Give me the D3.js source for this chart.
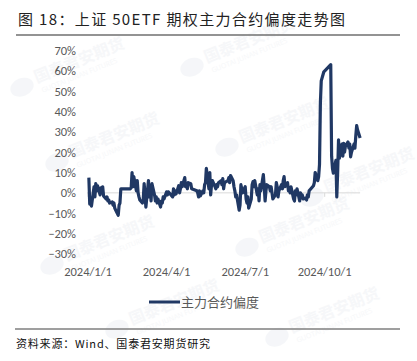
<!DOCTYPE html>
<html>
<head>
<meta charset="utf-8">
<script src="https://cdn.jsdelivr.net/npm/d3@7"></script>
<style>
  body { margin: 0; background: #fff; }
  svg { display: block; }
</style>
</head>
<body>
<script>
// ---- data ----
var titleText = "图 18：上证 50ETF 期权主力合约偏度走势图";
var sourceText = "资料来源：Wind、国泰君安期货研究";
var seriesName = "主力合约偏度";

var yTicks = [-0.3, -0.2, -0.1, 0, 0.1, 0.2, 0.3, 0.4, 0.5, 0.6, 0.7];
var xTicks = ["2024-01-01", "2024-04-01", "2024-07-01", "2024-10-01"];

var dates = [
  "2024-01-02","2024-01-03","2024-01-04","2024-01-05","2024-01-08","2024-01-09","2024-01-10","2024-01-11","2024-01-12",
  "2024-01-15","2024-01-16","2024-01-17","2024-01-18","2024-01-19","2024-01-22","2024-01-23","2024-01-24","2024-01-25",
  "2024-01-26","2024-01-29","2024-01-30","2024-01-31","2024-02-01","2024-02-02","2024-02-05","2024-02-06","2024-02-07",
  "2024-02-08","2024-02-19","2024-02-20","2024-02-21","2024-02-22","2024-02-23","2024-02-26","2024-02-27","2024-02-28",
  "2024-02-29","2024-03-01","2024-03-04","2024-03-05","2024-03-06","2024-03-07","2024-03-08","2024-03-11","2024-03-12",
  "2024-03-13","2024-03-14","2024-03-15","2024-03-18","2024-03-19","2024-03-20","2024-03-21","2024-03-22","2024-03-25",
  "2024-03-26","2024-03-27","2024-03-28","2024-03-29","2024-04-01","2024-04-02","2024-04-03","2024-04-08","2024-04-09",
  "2024-04-10","2024-04-11","2024-04-12","2024-04-15","2024-04-16","2024-04-17","2024-04-18","2024-04-19","2024-04-22",
  "2024-04-23","2024-04-24","2024-04-25","2024-04-26","2024-04-29","2024-04-30","2024-05-06","2024-05-07","2024-05-08",
  "2024-05-09","2024-05-10","2024-05-13","2024-05-14","2024-05-15","2024-05-16","2024-05-17","2024-05-20","2024-05-21",
  "2024-05-22","2024-05-23","2024-05-24","2024-05-27","2024-05-28","2024-05-29","2024-05-30","2024-05-31","2024-06-03",
  "2024-06-04","2024-06-05","2024-06-06","2024-06-07","2024-06-11","2024-06-12","2024-06-13","2024-06-14","2024-06-17",
  "2024-06-18","2024-06-19","2024-06-20","2024-06-21","2024-06-24","2024-06-25","2024-06-26","2024-06-27","2024-06-28",
  "2024-07-01","2024-07-02","2024-07-03","2024-07-04","2024-07-05","2024-07-08","2024-07-09","2024-07-10","2024-07-11",
  "2024-07-12","2024-07-15","2024-07-16","2024-07-17","2024-07-18","2024-07-19","2024-07-22","2024-07-23","2024-07-24",
  "2024-07-25","2024-07-26","2024-07-29","2024-07-30","2024-07-31","2024-08-01","2024-08-02","2024-08-05","2024-08-06",
  "2024-08-07","2024-08-08","2024-08-09","2024-08-12","2024-08-13","2024-08-14","2024-08-15","2024-08-16","2024-08-19",
  "2024-08-20","2024-08-21","2024-08-22","2024-08-23","2024-08-26","2024-08-27","2024-08-28","2024-08-29","2024-08-30",
  "2024-09-02","2024-09-03","2024-09-04","2024-09-05","2024-09-06","2024-09-09","2024-09-10","2024-09-11","2024-09-12",
  "2024-09-13","2024-09-18","2024-09-19","2024-09-20","2024-09-23","2024-09-24","2024-09-25","2024-09-26","2024-09-27",
  "2024-09-30","2024-10-08","2024-10-09","2024-10-10","2024-10-11","2024-10-14","2024-10-15","2024-10-16","2024-10-17",
  "2024-10-18","2024-10-21","2024-10-22","2024-10-23","2024-10-24","2024-10-25","2024-10-28","2024-10-29","2024-10-30",
  "2024-10-31","2024-11-01","2024-11-04","2024-11-05","2024-11-06","2024-11-07","2024-11-08","2024-11-11"
];

// skew, in percent
var skew = [
  7.5, -5.5, -4, -6.5, 3, -2, 4.5, 1, 3.5,
  -1, 2.5, 0.5, 3, -1.5, -3, -2, -4, -3.5,
  -5, -4.5, -6, -5, -7.5, -8.5, -11, -6, -5,
  2, 2, 2.5, 10, 3, 8, 1, 6, 0,
  -2, -3.5, -5, -3, 4.5, -1, -7, 6, -2,
  3, -4, 4.5, -1, -4, -2, -5, -3, -7,
  -4, -5, -2, -3, 0.5, -1, 0.5, -2, 2,
  -1, 1, -0.5, 3.5, 0, 2, 5, 3, 7.5,
  3, 4, 2, 5, 4.5, 2, 1, 0, -2,
  1, -1.5, 1, 0, 4, 5, 12, 2, 10,
  -1, 4, 6, 3, 2, 4, 3, 5, 6,
  4, 7, 2, 5, 6, 7.5, 5, 8.5, 6,
  3, 1, -2, -1, -8.5, -6, 4, 2, 0,
  3, -3, -5, -2, -7.5, -3, 4, 5.5, 3,
  6, -1, 2, -4, 4, 1, 9, 3, -4,
  1, 4, 3, 1, 3, 0, -3, -1, 5,
  3, -2, 1, 4, 2, 6, 8, 3, 5,
  1, 2, 0, 3, -3, -4, 1, -1, 2,
  -4, 0, -2.5, -1, -3, -2.5, -3.5, -1, -2,
  1, 3.5, 5, 10, 6, 8, 14, 44, 55,
  59.5, 63, 18, 12, 9.7, 16, -2, 10, 26,
  17, 24, 18, 24.3, 20, 23, 25, 22, 24,
  17.7, 20, 24, 22, 28, 33, 31, 27
];

// ---- setup ----
var W = 417, H = 361;
var parseDate = d3.timeParse("%Y-%m-%d");
var data = dates.map(function(d, i) { return { date: parseDate(d), value: skew[i] / 100 }; });

var svg = d3.select("body").append("svg")
    .attr("width", W)
    .attr("height", H);

var cjk = "'Noto Sans CJK SC', 'Noto Sans', sans-serif";

// watermarks (faint), kept inside the frame
var marks = [[45, 80], [215, 60], [80, 155], [250, 140], [75, 258], [270, 240], [335, 190], [300, 330], [140, 322]];
marks.forEach(function(m) {
    var g = svg.append("g")
        .attr("transform", "translate(" + m[0] + "," + m[1] + ") rotate(-22)")
        .attr("opacity", 0.35);
    g.append("ellipse").attr("cx", -24).attr("cy", -2).attr("rx", 12).attr("ry", 9).attr("fill", "#e3e8ef");
    g.append("text").text("国泰君安期货")
        .attr("x", -9).attr("y", 0)
        .attr("font-family", cjk).attr("font-size", 16).attr("font-weight", 700)
        .attr("fill", "#e6e9ee");
    g.append("text").text("GUOTAI JUNAN FUTURES")
        .attr("x", -7).attr("y", 11)
        .attr("font-family", "'Open Sans', sans-serif").attr("font-size", 7)
        .attr("fill", "#e6e9ee");
});

// title
svg.append("text")
    .text(titleText)
    .attr("x", 18).attr("y", 25)
    .attr("font-family", cjk)
    .attr("font-size", 15)
    .attr("fill", "#222")
    .attr("textLength", 327)
    .attr("lengthAdjust", "spacing");
svg.append("line")
    .attr("x1", 16).attr("x2", 400)
    .attr("y1", 35).attr("y2", 35)
    .attr("stroke", "#6f6f6f").attr("stroke-width", 1.5);

// scales
var x = d3.scaleTime()
    .domain([parseDate("2024-01-01"), parseDate("2024-10-01")])
    .range([88, 324.7]);
var y = d3.scaleLinear()
    .domain([-0.3, 0.7])
    .range([253.9, 50.4]);

// y axis labels
svg.append("g")
    .attr("transform", "translate(76,0)")
    .call(d3.axisLeft(y).tickValues(yTicks).tickSize(0).tickPadding(0).tickFormat(d3.format(".0%")))
    .call(function(g) { g.select(".domain").remove(); })
    .selectAll("text")
        .attr("font-family", "Calibri, 'Liberation Sans', sans-serif")
        .attr("font-size", 12.5)
        .attr("fill", "#595959");

// zero axis line with ticks
var xEnd = x(data[data.length - 1].date);
svg.append("line")
    .attr("x1", 87).attr("x2", xEnd)
    .attr("y1", y(0)).attr("y2", y(0))
    .attr("stroke", "#d9d9d9").attr("stroke-width", 1);
svg.selectAll("xtick")
    .data(xTicks)
    .join("line")
        .attr("x1", function(d) { return x(parseDate(d)); })
        .attr("x2", function(d) { return x(parseDate(d)); })
        .attr("y1", y(0)).attr("y2", y(0) + 4)
        .attr("stroke", "#d9d9d9");

// x labels
svg.selectAll("xlab")
    .data(xTicks)
    .join("text")
        .text(function(d) { return d3.timeFormat("%Y/%-m/%-d")(parseDate(d)); })
        .attr("x", function(d) { return x(parseDate(d)); })
        .attr("y", 276)
        .attr("text-anchor", "middle")
        .attr("font-family", "Calibri, 'Liberation Sans', sans-serif")
        .attr("font-size", 12.5)
        .attr("fill", "#595959");

// the series
var line = d3.line()
    .x(function(d) { return x(d.date); })
    .y(function(d) { return y(d.value); });
svg.append("path")
    .datum(data)
    .attr("d", line)
    .attr("fill", "none")
    .attr("stroke", "#203864")
    .attr("stroke-width", 3.2)
    .attr("stroke-linejoin", "round");

// legend
svg.append("line")
    .attr("x1", 149).attr("x2", 180)
    .attr("y1", 302).attr("y2", 302)
    .attr("stroke", "#203864").attr("stroke-width", 3);
svg.append("text")
    .text(seriesName)
    .attr("x", 181).attr("y", 307)
    .attr("font-family", cjk)
    .attr("font-size", 13)
    .attr("fill", "#595959");

// source footer
svg.append("line")
    .attr("x1", 15).attr("x2", 400)
    .attr("y1", 329).attr("y2", 329)
    .attr("stroke", "#7f7f7f").attr("stroke-width", 1.5);
svg.append("text")
    .text(sourceText)
    .attr("x", 16).attr("y", 348)
    .attr("font-family", cjk)
    .attr("font-size", 11)
    .attr("fill", "#111")
    .attr("textLength", 194)
    .attr("lengthAdjust", "spacing");
</script>
</body>
</html>
